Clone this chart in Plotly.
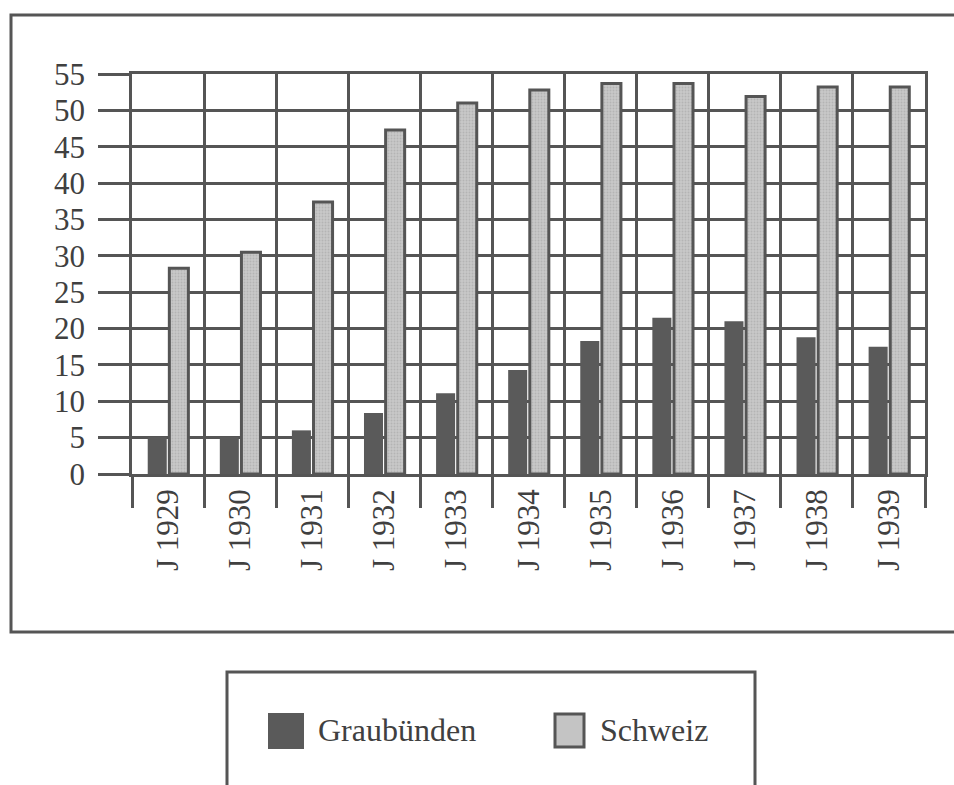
import plotly.graph_objects as go

categories = ["J 1929", "J 1930", "J 1931", "J 1932", "J 1933", "J 1934",
              "J 1935", "J 1936", "J 1937", "J 1938", "J 1939"]
graubuenden = [5.1, 5.1, 6.0, 8.4, 11.1, 14.3, 18.3, 21.5, 21.0, 18.8, 17.5]
schweiz = [28.3, 30.5, 37.4, 47.3, 51.0, 52.8, 53.7, 53.7, 51.9, 53.2, 53.2]
y_ticks = list(range(0, 60, 5))

W, H = 954, 785
L, R, T, B = 132, 925, 74, 474  # plot area in px
INK = "#555555"
TXT = "#404040"
FONT = "Liberation Serif, Times New Roman, DejaVu Serif, serif"


def px(x):
    return (x - L) / (R - L)


def py(y):
    return (B - y) / (B - T)


fig = go.Figure()
fig.add_trace(go.Bar(x=categories, y=graubuenden, name="Graubünden",
                     marker=dict(color="#5a5a5a", line=dict(width=0)),
                     showlegend=False))
fig.add_trace(go.Bar(x=categories, y=schweiz, name="Schweiz",
                     marker=dict(color="#c4c4c4", line=dict(color=INK, width=3),
                                 pattern=dict(shape=".", fgcolor="#a0a0a0",
                                              bgcolor="#c8c8c8", size=3,
                                              solidity=0.3)),
                     showlegend=False))

shapes = [
    # outer frame
    dict(type="rect", xref="paper", yref="paper",
         x0=px(11), x1=px(1000), y0=py(15), y1=py(632),
         line=dict(color=INK, width=3), layer="below"),
    # legend frame
    dict(type="rect", xref="paper", yref="paper",
         x0=px(227), x1=px(755), y0=py(672), y1=py(830),
         line=dict(color=INK, width=3)),
    # legend swatches
    dict(type="rect", xref="paper", yref="paper",
         x0=px(268), x1=px(304), y0=py(713), y1=py(749),
         fillcolor="#5a5a5a", line=dict(width=0)),
    dict(type="rect", xref="paper", yref="paper",
         x0=px(555), x1=px(584), y0=py(714), y1=py(747),
         fillcolor="#c4c4c4", line=dict(color=INK, width=3)),
]
annotations = [
    dict(text="Graubünden", xref="paper", yref="paper", x=px(316), y=py(730),
         xanchor="left", yanchor="middle", showarrow=False,
         font=dict(family=FONT, size=32, color=TXT)),
    dict(text="Schweiz", xref="paper", yref="paper", x=px(598), y=py(730),
         xanchor="left", yanchor="middle", showarrow=False,
         font=dict(family=FONT, size=32, color=TXT)),
]

fig.update_layout(
    width=W, height=H,
    margin=dict(l=L, r=W - R, t=T, b=H - B, pad=0),
    paper_bgcolor="white", plot_bgcolor="white",
    barmode="group", bargap=0.4, bargroupgap=0.12,
    font=dict(family=FONT, size=31, color=TXT),
    shapes=shapes, annotations=annotations,
    showlegend=False,
)
fig.update_xaxes(
    type="category", tickson="boundaries", range=[-0.5, 10.5],
    showgrid=True, gridcolor=INK, gridwidth=2.5,
    ticks="outside", ticklen=31, tickwidth=2.5, tickcolor=INK,
    tickangle=-90, ticklabelstandoff=0,
    showline=True, linecolor=INK, linewidth=2.5, mirror=True,
    tickfont=dict(family=FONT, size=31, color=TXT),
)
fig.update_yaxes(
    range=[0, 55], tickmode="array", tickvals=y_ticks,
    showgrid=True, gridcolor=INK, gridwidth=2.5, zeroline=False,
    ticks="outside", ticklen=31, tickwidth=2.5, tickcolor=INK,
    ticklabelstandoff=7,
    showline=True, linecolor=INK, linewidth=2.5, mirror=True,
    tickfont=dict(family=FONT, size=31, color=TXT),
)

fig.write_html("out.html",
               config={"displayModeBar": False},
               post_script="document.body.style.margin='0';"
                           "document.body.style.overflow='hidden';")
